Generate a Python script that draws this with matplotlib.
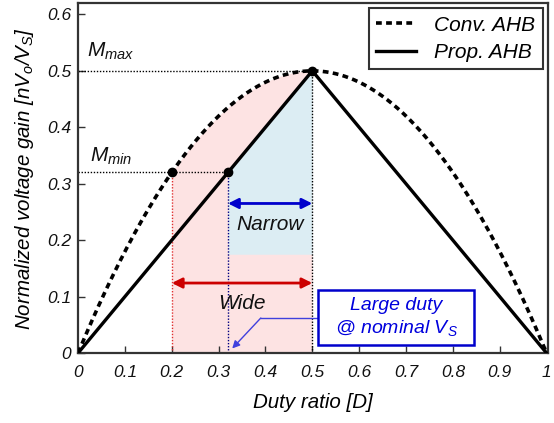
import numpy as np
import matplotlib
matplotlib.use("Agg")
import matplotlib.pyplot as plt
from matplotlib.patches import Rectangle

plt.rcParams['font.family'] = ['Liberation Sans', 'DejaVu Sans']
plt.rcParams['mathtext.fontset'] = 'custom'
plt.rcParams['mathtext.it'] = 'Liberation Sans:italic'
plt.rcParams['mathtext.rm'] = 'Liberation Sans:italic'

# data
duty = np.linspace(0, 1, 401)
conv_gain = 2 * duty * (1 - duty)          # conventional AHB
prop_duty = [0, 0.5, 1.0]
prop_gain = [0, 0.5, 0.0]                   # proposed AHB
d_min_conv = 0.2
d_min_prop = 0.32
d_max = 0.5
m_max = 0.5
m_min = 0.32
narrow_bottom = 0.175
xticks = [0, 0.1, 0.2, 0.3, 0.4, 0.5, 0.6, 0.7, 0.8, 0.9, 1]
xticklabels = ['0', '0.1', '0.2', '0.3', '0.4', '0.5', '0.6', '0.7', '0.8', '0.9', '1']
yticks = [0, 0.1, 0.2, 0.3, 0.4, 0.5, 0.6]
yticklabels = ['0', '0.1', '0.2', '0.3', '0.4', '0.5', '0.6']

fig = plt.figure(figsize=(5.54, 4.23), dpi=100)
ax = fig.add_axes([0.141, 0.1655, 0.848, 0.827])

# shaded regions
mask = (duty >= d_min_conv) & (duty <= d_max)
ax.fill_between(duty[mask], 0, conv_gain[mask], color='#fde3e3', lw=0, zorder=1)
xb = np.linspace(d_min_prop, d_max, 50)
ax.fill_between(xb, narrow_bottom, xb, color='#dcedf3', lw=0, zorder=1.5)

# guide lines
dot = (0, (1, 1.2))
ax.plot([0, d_max], [m_max, m_max], color='black', ls=dot, lw=1, zorder=2)
ax.plot([0, d_min_prop], [m_min, m_min], color='black', ls=dot, lw=1, zorder=2)
ax.plot([d_max, d_max], [0, m_max], color='black', ls=dot, lw=1, zorder=2)
ax.plot([d_min_conv, d_min_conv], [0, m_min], color='#e03030', ls=dot, lw=1, zorder=2)
ax.plot([d_min_prop, d_min_prop], [0, m_min], color='#000080', ls=dot, lw=1, zorder=2)

# curves
ax.plot(duty, conv_gain, color='black', ls=(0, (1.6, 1.2)), lw=2.6, label='Conv. AHB', zorder=3)
ax.plot(prop_duty, prop_gain, color='black', lw=2.4, label='Prop. AHB', zorder=3)
ax.plot([d_min_conv, d_min_prop, d_max], [m_min, m_min, m_max], 'o', color='black', ms=6, zorder=4)

# arrows
ax.annotate('', xy=(d_min_prop, 0.265), xytext=(d_max, 0.265),
            arrowprops=dict(arrowstyle='<|-|>', color='#0000cc', lw=2, mutation_scale=15,
                            shrinkA=0, shrinkB=0), zorder=5)
ax.annotate('', xy=(d_min_conv, 0.124), xytext=(d_max, 0.124),
            arrowprops=dict(arrowstyle='<|-|>', color='#cc0000', lw=2, mutation_scale=15,
                            shrinkA=0, shrinkB=0), zorder=5)
ax.text(0.41, 0.228, 'Narrow', ha='center', va='center', fontsize=15, style='italic', color='#111111', zorder=5)
ax.text(0.35, 0.088, 'Wide', ha='center', va='center', fontsize=15, style='italic', color='#111111', zorder=5)

# annotation box
ax.add_patch(Rectangle((0.513, 0.014), 0.333, 0.097, fc='white', ec='#0000cc', lw=1.8, zorder=6))
ax.text(0.68, 0.063, 'Large duty\n@ nominal V$_S$', ha='center', va='center', fontsize=14,
        style='italic', color='#0000dd', linespacing=1.25, zorder=7)
ax.plot([0.513, 0.39], [0.062, 0.062], color='#4040dd', lw=1, zorder=5)
ax.annotate('', xy=(0.329, 0.008), xytext=(0.39, 0.062),
            arrowprops=dict(arrowstyle='-|>', color='#4040dd', lw=1, mutation_scale=11,
                            shrinkA=0, shrinkB=0), zorder=5)

# M labels
ax.text(0.02, 0.535, '$M_{max}$', fontsize=15, ha='left', va='center', color='#111111')
ax.text(0.025, 0.348, '$M_{min}$', fontsize=15, ha='left', va='center', color='#111111')

ax.set_xlim(0, 1.003)
ax.set_ylim(0, 0.62)
ax.set_xticks(xticks)
ax.set_xticklabels(xticklabels, fontsize=12.5, style='italic')
ax.set_yticks(yticks)
ax.set_yticklabels(yticklabels, fontsize=12.5, style='italic')
ax.tick_params(direction='in', length=5, width=1, colors='#333333', labelcolor='#111111')
ax.tick_params(axis='x', pad=9)
ax.tick_params(axis='y', pad=5)
for s in ax.spines.values():
    s.set_linewidth(1.6)
    s.set_color('#333333')

ax.set_xlabel('Duty ratio [D]', fontsize=14.8, style='italic', labelpad=9)
ax.set_ylabel('Normalized voltage gain [nV$_o$/V$_S$]', fontsize=14.8, style='italic', labelpad=8)

leg = ax.legend(loc='upper right', fontsize=15, frameon=True, fancybox=False,
                handlelength=1.9, borderaxespad=0.25, handletextpad=0.9, borderpad=0.35,
                labelspacing=0.4)
leg.get_frame().set_edgecolor('black')
leg.get_frame().set_linewidth(1.5)
for t in leg.get_texts():
    t.set_style('italic')

fig.savefig('out.png', dpi=100)
